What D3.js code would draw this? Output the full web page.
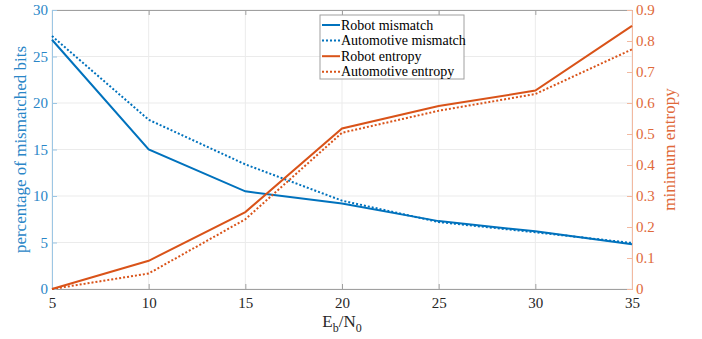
<!DOCTYPE html>
<html>
<head>
<meta charset="utf-8">
<script src="https://cdn.jsdelivr.net/npm/d3@7"></script>
<style>
  body { margin: 0; background: #fff; }
</style>
</head>
<body>
<div id="chart"></div>
<script>
const snr = [5, 10, 15, 20, 25, 30, 35];
const robotMismatch = [26.8, 15.0, 10.5, 9.2, 7.3, 6.2, 4.8];
const autoMismatch = [27.2, 18.2, 13.4, 9.5, 7.2, 6.1, 4.95];
const robotEntropy = [0.0, 0.091, 0.248, 0.518, 0.59, 0.64, 0.849];
const autoEntropy = [0.0, 0.05, 0.225, 0.504, 0.575, 0.629, 0.773];
const leftTicks = [0, 5, 10, 15, 20, 25, 30];
const rightTicks = [0, 0.1, 0.2, 0.3, 0.4, 0.5, 0.6, 0.7, 0.8, 0.9];

const blue = '#0072BD';
const orange = '#D95319';
const FONT = '"Liberation Serif", "Times New Roman", Times, serif';

const W = 702, H = 339;
const margin = { top: 10, right: 70, bottom: 50, left: 52 };
const width = W - margin.left - margin.right;
const height = H - margin.top - margin.bottom;

const svg = d3.select('#chart').append('svg')
  .attr('width', W)
  .attr('height', H)
  .style('font-family', FONT);
const g = svg.append('g')
  .attr('transform', `translate(${margin.left},${margin.top})`);

const x = d3.scaleLinear().domain([5, 35]).range([0, width]);
const yL = d3.scaleLinear().domain([0, 30]).range([height, 0]);
const yR = d3.scaleLinear().domain([0, 0.9]).range([height, 0]);

// grid
g.append('g')
  .selectAll('line')
  .data(snr)
  .enter().append('line')
  .attr('x1', d => x(d)).attr('x2', d => x(d))
  .attr('y1', 0).attr('y2', height)
  .attr('stroke', '#ebebeb');
g.append('g')
  .selectAll('line')
  .data(leftTicks)
  .enter().append('line')
  .attr('x1', 0).attr('x2', width)
  .attr('y1', d => yL(d)).attr('y2', d => yL(d))
  .attr('stroke', '#ebebeb');

// x axis bottom
const xb = g.append('g')
  .attr('transform', `translate(0,${height})`)
  .call(d3.axisBottom(x).tickValues(snr).tickSize(-5).tickPadding(8));
xb.attr('font-family', FONT);
xb.select('.domain').attr('stroke', '#a0a0a0');
xb.selectAll('.tick line').attr('stroke', '#a0a0a0');
xb.selectAll('text').attr('fill', '#262626').style('font-size', '15px').style('font-family', FONT);

// top line
const xt = g.append('g')
  .call(d3.axisTop(x).tickValues(snr).tickSize(-5).tickFormat(''));
xt.select('.domain').attr('stroke', '#a0a0a0');
xt.selectAll('.tick line').attr('stroke', '#a0a0a0');

// left axis
const yl = g.append('g')
  .call(d3.axisLeft(yL).tickValues(leftTicks).tickSize(-5).tickPadding(4));
yl.attr('font-family', FONT);
yl.select('.domain').attr('stroke', '#9cc6e4');
yl.selectAll('.tick line').attr('stroke', '#9cc6e4');
yl.selectAll('text').attr('fill', '#2a86c7').style('font-size', '15px').style('font-family', FONT);

// right axis
const yr = g.append('g')
  .attr('transform', `translate(${width},0)`)
  .call(d3.axisRight(yR).tickValues(rightTicks).tickSize(-5).tickPadding(4).tickFormat(d => d === 0 ? '0' : d3.format('.1f')(d)));
yr.attr('font-family', FONT);
yr.select('.domain').attr('stroke', '#f2b9a0');
yr.selectAll('.tick line').attr('stroke', '#f2b9a0');
yr.selectAll('text').attr('fill', '#e0693a').style('font-size', '15px').style('font-family', FONT);

// lines
const lineL = d3.line().x((d, i) => x(snr[i])).y(d => yL(d));
const lineR = d3.line().x((d, i) => x(snr[i])).y(d => yR(d));

const series = [
  { name: 'Robot mismatch', data: robotMismatch, gen: lineL, color: blue, dash: null },
  { name: 'Automotive mismatch', data: autoMismatch, gen: lineL, color: blue, dash: '2,2' },
  { name: 'Robot entropy', data: robotEntropy, gen: lineR, color: orange, dash: null },
  { name: 'Automotive entropy', data: autoEntropy, gen: lineR, color: orange, dash: '2,2' }
];

series.forEach(s => {
  g.append('path')
    .datum(s.data)
    .attr('fill', 'none')
    .attr('stroke', s.color)
    .attr('stroke-width', 2)
    .attr('stroke-dasharray', s.dash)
    .attr('d', s.gen);
});

// axis labels
const xl = svg.append('text')
  .attr('x', margin.left + width / 2)
  .attr('y', 327)
  .attr('text-anchor', 'middle')
  .attr('fill', '#262626')
  .style('font-family', FONT)
  .style('font-size', '17px');
xl.append('tspan').text('E');
xl.append('tspan').attr('dy', 5).style('font-size', '12px').text('b');
xl.append('tspan').attr('dy', -5).text('/N');
xl.append('tspan').attr('dy', 5).style('font-size', '12px').text('0');

svg.append('text')
  .attr('transform', `translate(26,${margin.top + height / 2}) rotate(-90)`)
  .attr('text-anchor', 'middle')
  .attr('fill', '#2a86c7')
  .style('font-family', FONT)
  .style('font-size', '17px')
  .text('percentage of mismatched bits');

svg.append('text')
  .attr('transform', `translate(675,${margin.top + height / 2}) rotate(-90)`)
  .attr('text-anchor', 'middle')
  .attr('fill', '#e0693a')
  .style('font-family', FONT)
  .style('font-size', '17px')
  .text('minimum entropy');

// legend
const lg = svg.append('g').attr('transform', 'translate(320,15)');
lg.append('rect')
  .attr('width', 144).attr('height', 64)
  .attr('fill', '#fff').attr('stroke', '#a0a0a0');
series.forEach((s, i) => {
  const yy = 10 + i * 15.6;
  lg.append('line')
    .attr('x1', 2).attr('x2', 20)
    .attr('y1', yy).attr('y2', yy)
    .attr('stroke', s.color).attr('stroke-width', 2)
    .attr('stroke-dasharray', s.dash);
  lg.append('text')
    .attr('x', 21).attr('y', yy + 4.5)
    .attr('fill', '#000')
    .style('font-family', FONT)
    .style('font-size', '14px')
    .text(s.name);
});
</script>
</body>
</html>
